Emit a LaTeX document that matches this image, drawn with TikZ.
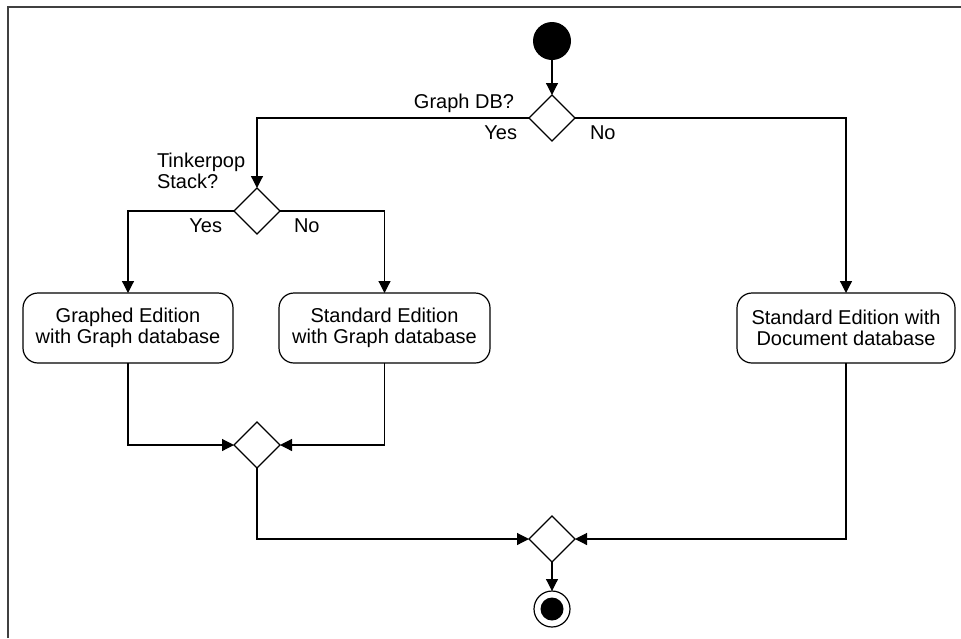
\documentclass[tikz,border=0pt]{standalone}
\usepackage{fontspec}
\setmainfont{Liberation Sans}
\usetikzlibrary{shapes.geometric,arrows.meta}

\begin{document}
\begin{tikzpicture}[x={(1pt,0pt)},y={(0pt,-1pt)},
  every node/.style={font=\fontsize{20}{21}\selectfont, outer sep=0pt},
  action/.style={draw, rounded corners=15pt, align=center, minimum height=70pt, line width=1.2pt},
  choice/.style={draw, diamond, minimum width=46pt, minimum height=46pt, inner sep=0pt, line width=1.2pt},
  flow/.style={-{Triangle[length=12pt,width=12pt]}, line width=1.2pt},
  guard/.style={inner sep=0pt}]

\useasboundingbox (0,0) rectangle (961,638);
\draw[line width=2pt, black!75] (7.5,638) -- (7.5,6.5) -- (961,6.5);

\node[circle, fill=black, minimum size=38pt] (start) at (552,41) {};
\node[choice] (graphdb) at (552,118) {};
\node[choice] (tinker) at (257,211) {};
\node[action, minimum width=210pt] (graphed) at (128,328) {Graphed Edition\\with Graph database};
\node[action, minimum width=211pt] (stdgraph) at (384.5,328) {Standard Edition\\with Graph database};
\node[action, minimum width=218pt] (stddoc) at (846,328) {Standard Edition with\\Document database};
\node[choice] (mergeleft) at (257,445) {};
\node[choice] (mergeall) at (552,539) {};
\node[circle, draw, line width=1.2pt, minimum size=36pt] (stop) at (552,609) {};
\node[circle, fill=black, minimum size=23pt] (stopdot) at (stop) {};

\node[guard, anchor=base east] (dbq) at (514,108) {Graph DB?};
\node[guard, anchor=base east] (dbyes) at (517,139) {Yes};
\node[guard, anchor=base west] (dbno) at (590,139) {No};
\node[guard, anchor=north west, align=left] (tpq) at (157,153) {Tinkerpop\\Stack?};
\node[guard, anchor=base east] (tpyes) at (222,232) {Yes};
\node[guard, anchor=base west] (tpno) at (294,232) {No};

\draw[flow] (start) -- (graphdb.north);
\draw[flow] (graphdb.west) -| (tinker.north);
\draw[flow] (graphdb.east) -| (stddoc.north);
\draw[flow] (tinker.west) -| (graphed.north);
\draw[flow] (tinker.east) -| (stdgraph.north);
\draw[flow] (graphed.south) |- (mergeleft.west);
\draw[flow] (stdgraph.south) |- (mergeleft.east);
\draw[flow] (mergeleft.south) |- (mergeall.west);
\draw[flow] (stddoc.south) |- (mergeall.east);
\draw[flow] (mergeall.south) -- (stop.north);
\end{tikzpicture}
\end{document}
